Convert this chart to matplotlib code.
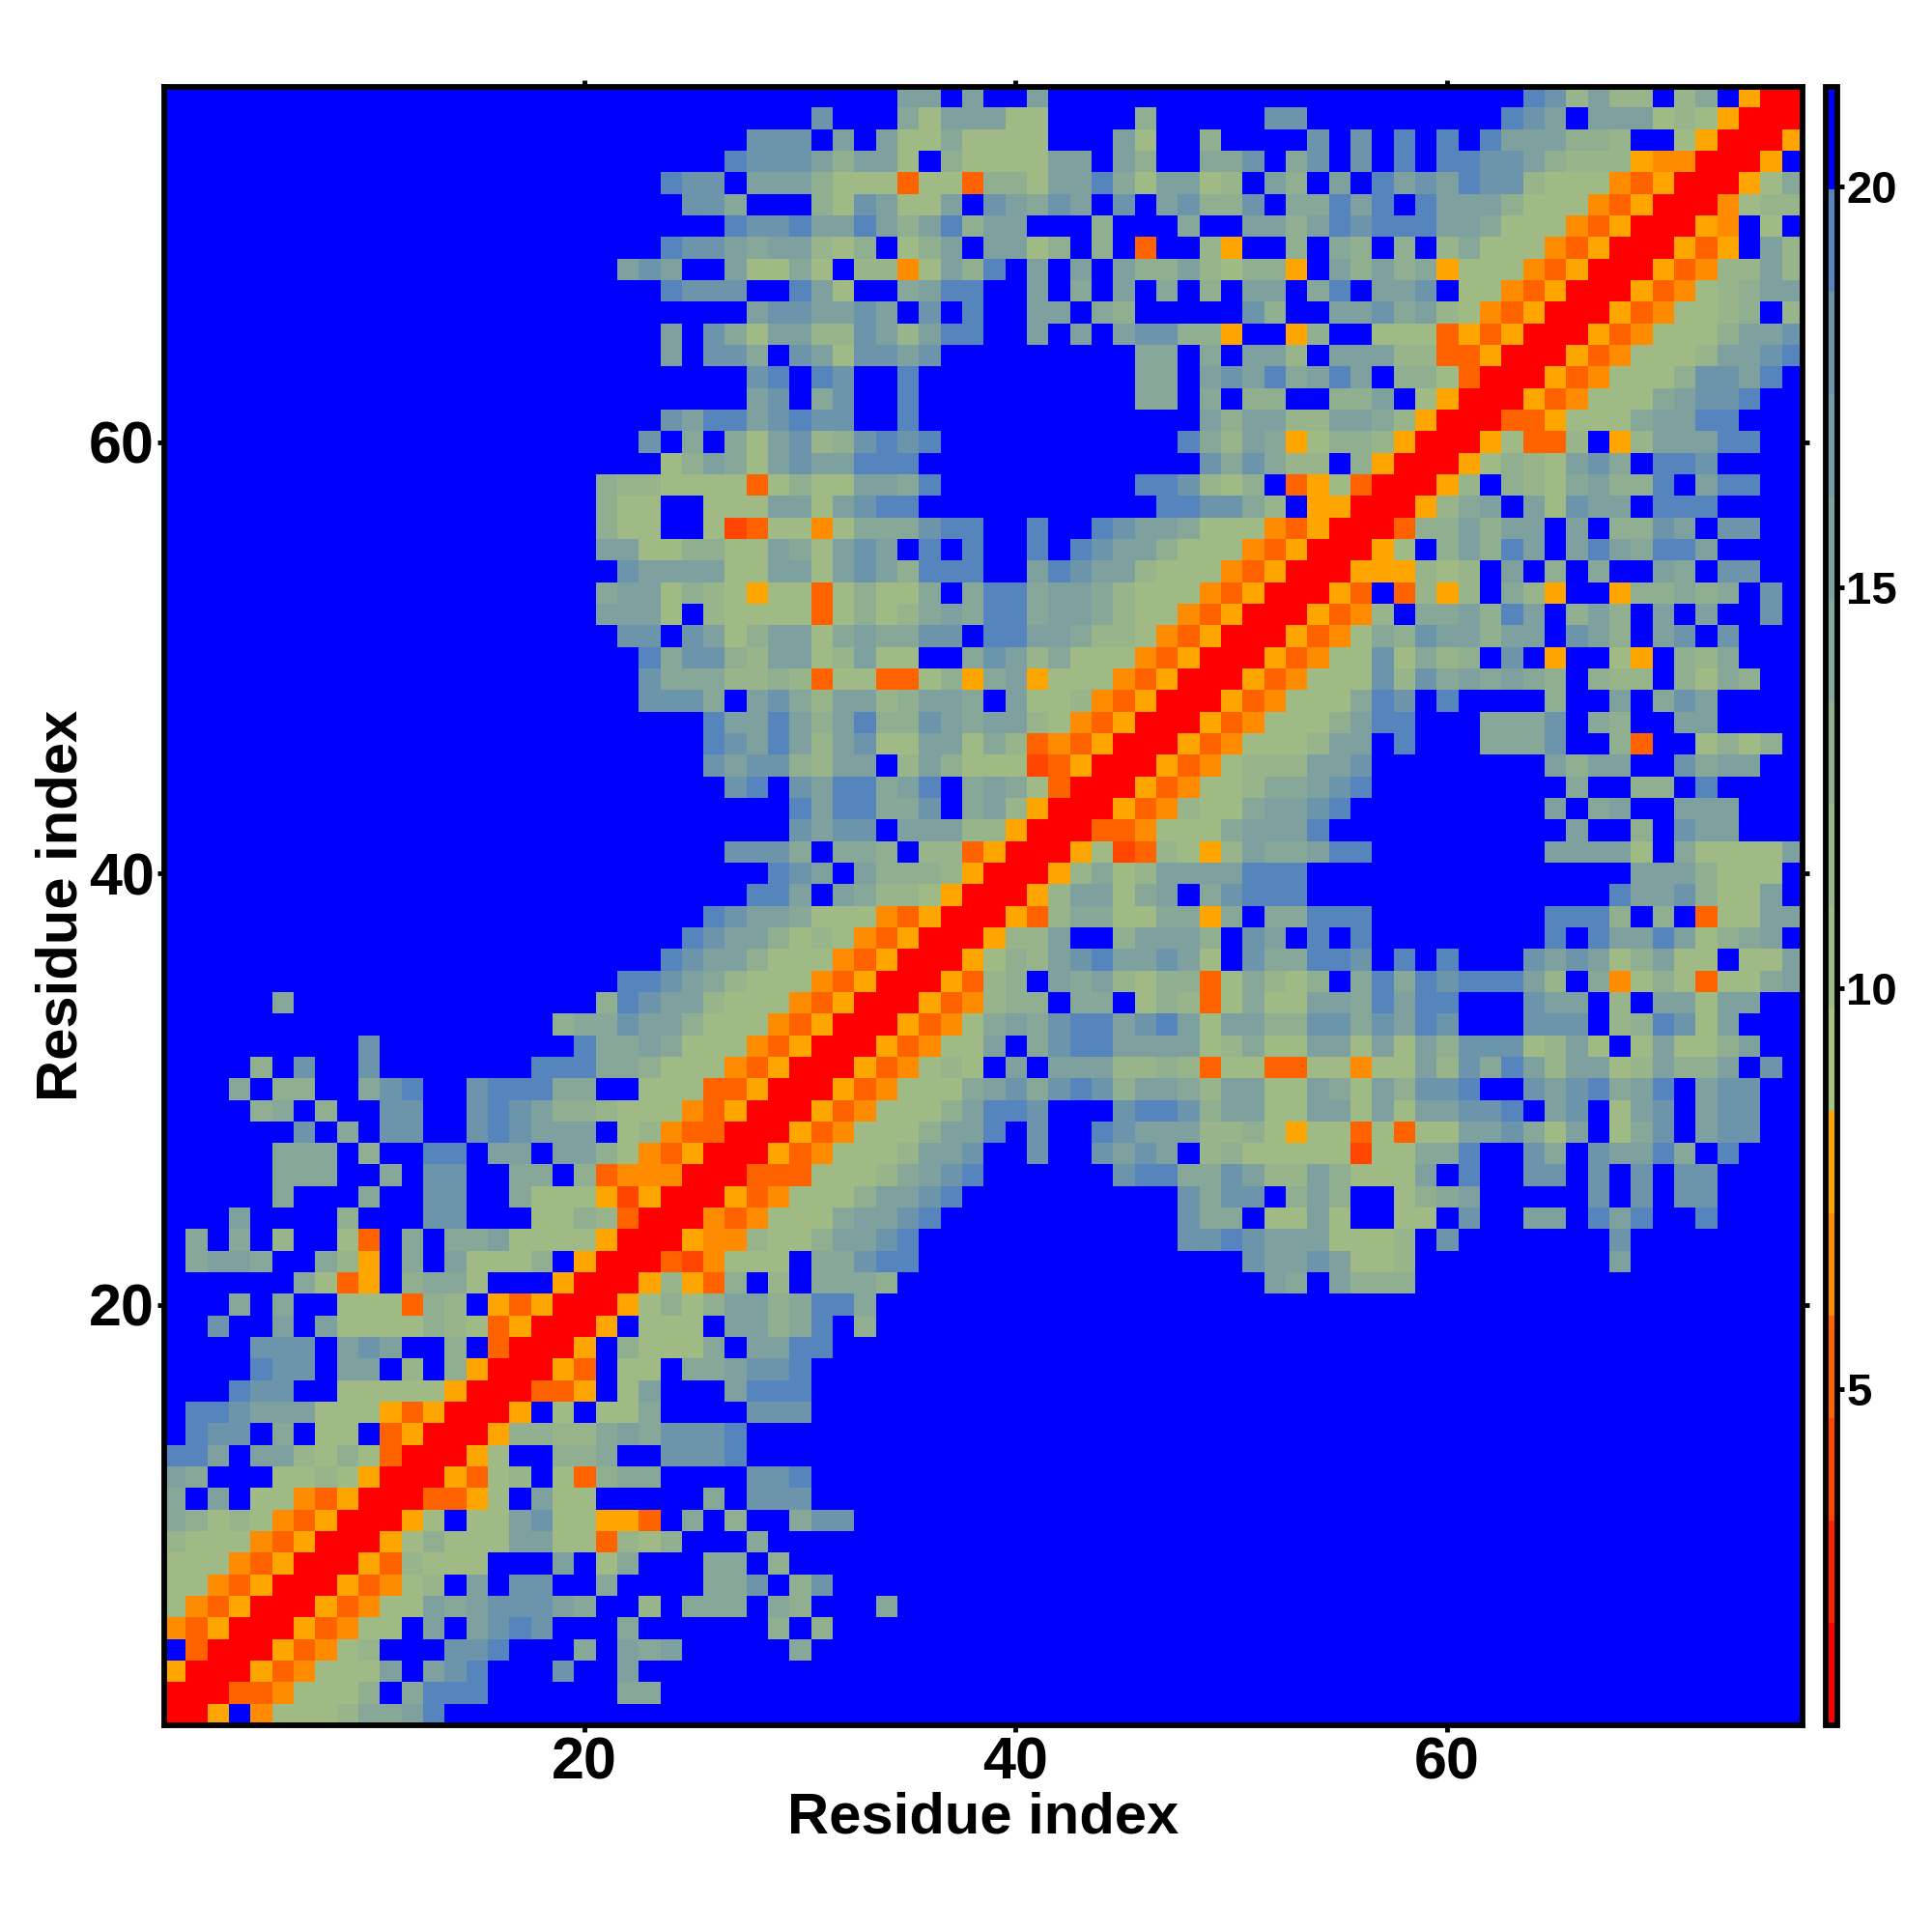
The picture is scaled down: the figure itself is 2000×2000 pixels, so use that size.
import numpy as np
import matplotlib
matplotlib.use('Agg')
import matplotlib.pyplot as plt
from matplotlib.colors import ListedColormap, BoundaryNorm


def f(n, s=""):
    return '.' * n + s


# Lower triangle of the symmetric distance map: row y holds cells x = 1..y.
rows = [
"R", "RR", "YRR", ".DRR", "ODYRR", "gODYRR", "ggODYRR", "gggODYRR", "hgggODYRR", "jighgODYRR",
"j.k.ggODYRR", "kj...gghgYRR", "mmk.kkhgigDRR", ".mll.j.gg.DYRR", ".mmlkkkgggYDYRR",
"...mll..gggggYRR", "....mll.kk.h.iYRR", "....lll.klk..i.DRR", "..l..k.kggggihgDYRR",
"...j.j..gggDih.YDYRR", "......jgDY.ijjg...YRR", ".jkkj..jhY.j.kgggi.YRR", ".j.j.h..gD.j.jjkggggYRR",
"...k....i...ll...ggihDRR", ".....j...j..ll..jgggYEYRR", ".....jjj..j.ll..jj.iDOOORR",
".....jjj.i..mm.kk.kkigODYRR", "......l.j.ll..lmlkkk.ghODDRR", "....ij.i..ll..lmlkiihgggODYRR",
"...j.ii..jlm..lmmmjj..gggDDYRR", "....i.l..l.......mmmjjigggODYRR",
".........l.........mjjkjgggODYRR",
f(18, "ijjlkkigggODYRR"),
".....j..............imlkkhgggODYRR",
f(21, "mmlkjhgggODYRR"),
f(23, "mlkkigggODYRR"),
f(24, "mlkkighgODYRR"),
f(25, "mlkkjgggODYRR"),
f(27, "mmk.kjhhgYRR"),
f(28, "mlk.kiiihYRR"),
f(26, "lllj.jji.hhDYRR"),
f(29, "lkll.kkkhhYRR"),
f(29, "mkmmjjl.jkhYRR"),
f(26, "lm.lkmmjkm.jkjgDRR"),
f(25, "lkllihkk.hkigggEDYRR"),
f(25, "mlkmkhklggkkgjhDODYRR"),
f(25, "mkkmkikmiilkjkkhgODYRR"),
f(22, "lllj.kljhkkhikkj.kgghODYRR"),
f(22, "ljjjhhihDggDDgiYjkYgggODYRR"),
f(22, "mjllihkkghkgg..jlkhjgggODYRR"),
f(21, "ll.lkgikkgjkjjll.mmkkjhhgODYRR"),
f(20, "kkkg.hggggDgighjkjmmjkkjhggODYRR"),
f(20, "jkkgihgYggDgiggj.jmmjkkjhgggODYRR"),
f(21, "lkkkkggkkgklkimmm..kmlkkhgggODYRR"),
f(20, "kkggiiggkjgklk.m.m..m.mlkkigggODYRR"),
f(20, "igg..gEDggOgjjjlmm..m..mlkkjgggODYRR"),
f(20, "igg..gggkkgklmm" + f(11) + "mmlljh.YYRR"),
f(20, "ihhggggDgiggkkjm" + f(9) + "mmlhgi.DYgDRR"),
f(23, "gikjgklkkmmm" + f(13) + "ljljhh.iYRR"),
f(20, "..l.j.jgklhilmlm" + f(11) + "mjhkjYgiihYRR"),
f(23, "lkmmklmll..m" + f(13) + "kikkhhkkjhYRR"),
f(27, "kl.jl..m" + f(10) + "jj.j.ii..iik.gYRR"),
f(27, "lm.ml..m" + f(10) + "jj.klkmjkmk.iigDRR"),
f(23, "k.llj.lkgllkl" + f(9) + "jj.j.kkh.kkkhhDDYRR"),
f(23, "k.ljgkkhhlkhkmm..k.k.klliiY..Yi..gggDYDYRR"),
f(27, "kllkklk.l.m..kk.ji" + f(5) + "li..kkljkhgODYRR"),
f(23, "mlll..mkg..jkmm..k.j.k.j.i.kk.jm.kkl.ggODYRR"),
f(21, "klk..kggjg.hhOgkim.k.k.kiikhgiiY.kikijYgggODYRR"),
f(23, "mllkjkkhgi.gik.kkgi.i.D..hY..i.ji.i.hjgggODYRR"),
f(26, "mllmkkmkikmikk...i...j..kkikmlmmmkkjgggODYRR"),
f(24, "llj...iglkggk.lkjlk.l.kliil.jjmkm.mkkkigggODYRR"),
f(23, "mll.kkkigggDggDiigkkmjgkkgh.ki.k.mklkmllhgggODYRR"),
f(26, "mlllkikkg.iggggkk.ki..jjl.jl.l.m.mmllkihhhYOORR"),
f(27, "lll.k.kggjgggg...kg..i....l.l.m.m.mkkkiih..gYRR"),
f(30, "l...jgkkkgg....i.....ll.........mlk.kkkghgYRR"),
f(34, "kk.k..k...." + f(18) + "mlhkhh.hj.YRR"),
]

letters = "REDOYghijklm."
bands = [1, 3, 4, 5, 6, 8, 9, 10, 11, 12, 14, 15, 16]
band_colors = ["#FF0000", "#FF2000", "#FF4500", "#FF6300", "#FF8C00", "#FFA500",
               "#A8C080", "#A0BA85", "#98B48A", "#90AE90", "#87A798", "#7EA09F",
               "#759BA6", "#6C95AC", "#5585BC", "#0000FF"]
low, step = 0.81, 1.2775
tick_vals = [20, 40, 60]
cbar_ticks = [5, 10, 15, 20]

bad = [(y, len(r)) for y, r in enumerate(rows, 1) if len(r) != y]
if bad or len(rows) != 76:
    raise SystemExit(f"bad rows {bad} n={len(rows)}")

value_of = {c: low + step * (b - 0.5) for c, b in zip(letters, bands)}
n = 76
M = np.full((n, n), value_of['.'])
for y, r in enumerate(rows, 1):
    for x, c in enumerate(r, 1):
        M[y - 1, x - 1] = M[x - 1, y - 1] = value_of[c]

plt.rcParams['font.family'] = ['Liberation Sans', 'DejaVu Sans']
plt.rcParams['font.weight'] = 'bold'
W = 2000
fig = plt.figure(figsize=(20, 20), dpi=100)
lw = 4.2
ax = fig.add_axes([169.5 / W, 1 - 1786 / W, (1866 - 169.5) / W, (1786 - 89.5) / W])
edges = low + step * np.arange(len(band_colors) + 1)
cmap = ListedColormap(band_colors)
norm = BoundaryNorm(edges, cmap.N)
im = ax.imshow(M, origin='lower', extent=(0.5, n + 0.5, 0.5, n + 0.5), cmap=cmap, norm=norm,
               aspect='auto', interpolation='nearest')
ax.set_xticks(tick_vals)
ax.set_yticks(tick_vals)
ax.tick_params(axis='both', which='major', labelsize=44, width=3.5, length=5,
               top=True, right=True, bottom=True, left=True)
ax.tick_params(axis='x', pad=3)
ax.tick_params(axis='y', pad=2)
for s in ax.spines.values():
    s.set_linewidth(lw)
ax.set_xlabel("Residue index", fontsize=43, fontweight='bold', labelpad=0)
ax.set_ylabel("Residue index", fontsize=43, fontweight='bold', labelpad=0)

cax = fig.add_axes([1889.5 / W, 1 - 1786 / W, (1901.5 - 1889.5) / W, (1786 - 89.5) / W])
cb = fig.colorbar(im, cax=cax, ticks=cbar_ticks, spacing='proportional', drawedges=False)
cb.ax.tick_params(labelsize=34, width=3.5, length=5, pad=2, right=True)
cb.outline.set_linewidth(lw)
cb.ax.minorticks_off()
for t in cb.ax.get_yticklabels() + ax.get_xticklabels() + ax.get_yticklabels():
    t.set_fontweight('bold')
fig.savefig('out.png', dpi=100, facecolor='white')
